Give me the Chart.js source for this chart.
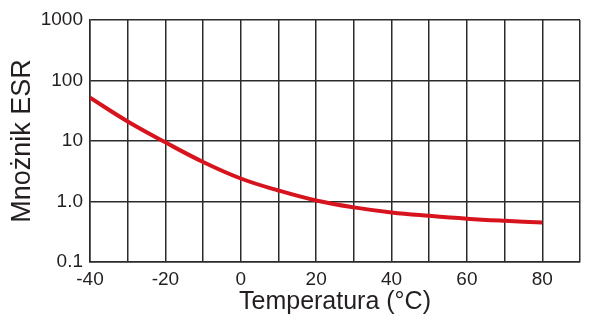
<!DOCTYPE html>
<html>
<head>
<meta charset="utf-8">
<script src="https://cdn.jsdelivr.net/npm/chart.js@4"></script>
<style>
  html, body { margin: 0; padding: 0; background: #fff; }
  #wrap { width: 600px; height: 325px; }
</style>
</head>
<body>
<div id="wrap"><canvas id="esrChart"></canvas></div>
<script>
// ESR multiplier vs. temperature
const temperatures = [-40, -30, -20, -10, 0, 10, 20, 30, 40, 50, 60, 70, 80];
const esrFactor = [52, 21, 9.5, 4.5, 2.4, 1.52, 1.04, 0.8, 0.66, 0.58, 0.52, 0.48, 0.45];
const yTicks = [0.1, 1, 10, 100, 1000];
const yTickLabels = ["0.1", "1.0", "10", "100", "1000"];

const gridColor = "#2b2b2b";
const textColor = "#231f20";

document.addEventListener("DOMContentLoaded", function () {
    const ctx = document.getElementById("esrChart").getContext("2d");

    new Chart(ctx, {
        type: "line",
        data: {
            datasets: [{
                data: temperatures.map((t, i) => ({ x: t, y: esrFactor[i] })),
                borderColor: "#d7141e",
                borderWidth: 4,
                pointRadius: 0,
                tension: 0.4,
                fill: false
            }]
        },
        options: {
            responsive: true,
            maintainAspectRatio: false,
            animation: false,
            layout: { padding: { top: 20, right: 20, left: 0, bottom: 0 } },
            plugins: {
                legend: { display: false },
                tooltip: { enabled: false }
            },
            scales: {
                x: {
                    type: "linear",
                    min: -40,
                    max: 90,
                    afterFit: scale => { scale.height = 63; },
                    ticks: {
                        stepSize: 10,
                        autoSkip: false,
                        maxRotation: 0,
                        padding: 6,
                        color: textColor,
                        font: { family: "Liberation Sans, Arial, sans-serif", size: 19 },
                        callback: v => (v % 20 === 0 && v <= 80) ? String(v) : ""
                    },
                    grid: { color: gridColor, lineWidth: 1.5, drawTicks: false },
                    border: { color: gridColor, width: 1.5 },
                    title: {
                        display: true,
                        text: "Temperatura (°C)",
                        color: textColor,
                        font: { family: "Liberation Sans, Arial, sans-serif", size: 25 },
                        padding: { top: 0, bottom: 8 }
                    }
                },
                y: {
                    type: "logarithmic",
                    min: 0.1,
                    max: 1000,
                    afterFit: scale => { scale.width = 90; },
                    afterBuildTicks: scale => {
                        scale.ticks = yTicks.map(v => ({ value: v }));
                    },
                    ticks: {
                        padding: 7,
                        color: textColor,
                        font: { family: "Liberation Sans, Arial, sans-serif", size: 19 },
                        callback: v => {
                            const i = yTicks.indexOf(v);
                            return i >= 0 ? yTickLabels[i] : "";
                        }
                    },
                    grid: { color: gridColor, lineWidth: 1.5, drawTicks: false },
                    border: { color: gridColor, width: 1.5 },
                    title: {
                        display: true,
                        text: "Mnożnik ESR",
                        color: textColor,
                        font: { family: "Liberation Sans, Arial, sans-serif", size: 27 },
                        padding: { top: 6, bottom: 0 }
                    }
                }
            }
        }
    });
});
</script>
</body>
</html>
